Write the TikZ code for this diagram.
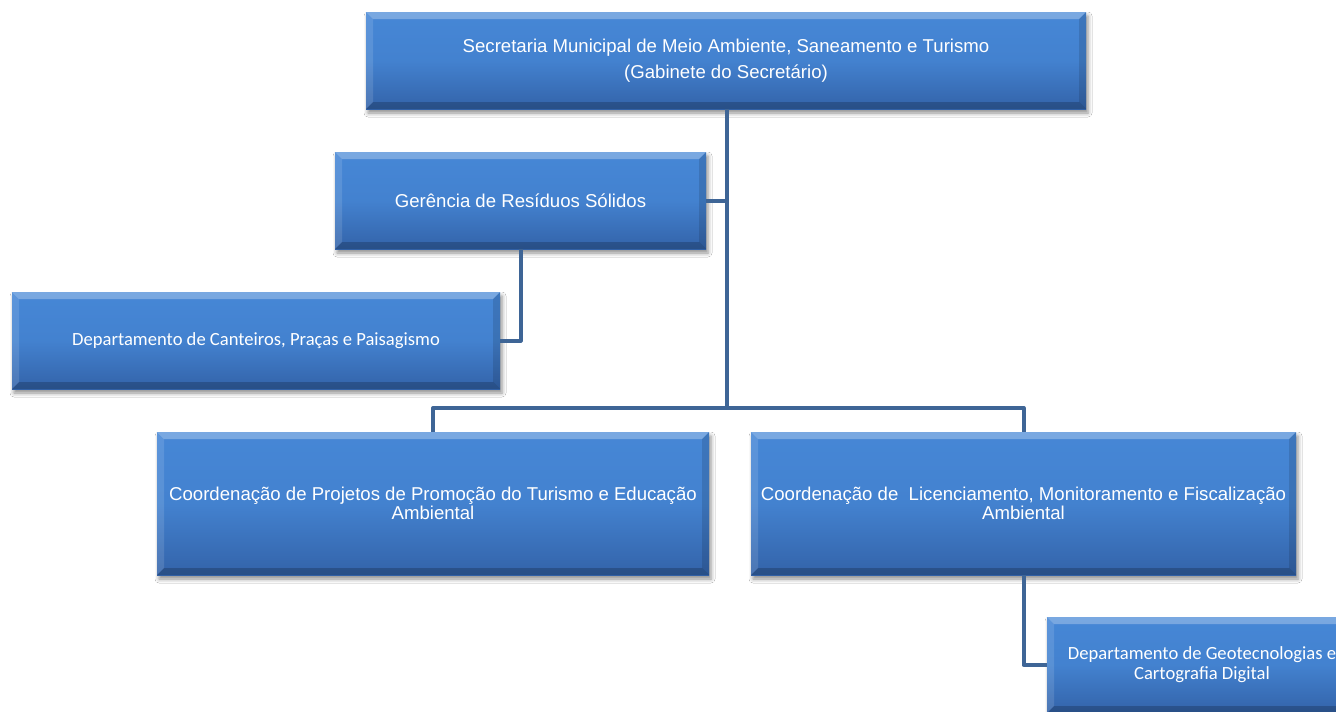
\documentclass[tikz,border=0pt]{standalone}
\usepackage{fontspec}
\setmainfont{Liberation Sans}
\newfontfamily\calib{Carlito}
\usetikzlibrary{calc,shadows.blur}
\definecolor{boxtop}{HTML}{4687D6}
\definecolor{boxbot}{HTML}{3363A9}
\definecolor{linecol}{HTML}{3E6596}
\tikzset{
  orgbox/.style={
    rectangle, inner sep=0pt, align=center, text=white,
    top color=boxtop, bottom color=boxbot, middle color=boxtop!85!boxbot,
    blur shadow={shadow xshift=2pt, shadow yshift=-4pt, shadow blur radius=4pt, shadow opacity=45},
    path picture={
      \fill[white,opacity=0.28] (path picture bounding box.north west) -- (path picture bounding box.north east) -- ($(path picture bounding box.north east)+(-7pt,-7pt)$) -- ($(path picture bounding box.north west)+(7pt,-7pt)$) -- cycle;
      \fill[white,opacity=0.12] (path picture bounding box.north west) -- ($(path picture bounding box.north west)+(7pt,-7pt)$) -- ($(path picture bounding box.south west)+(7pt,7pt)$) -- (path picture bounding box.south west) -- cycle;
      \fill[black,opacity=0.12] (path picture bounding box.north east) -- ($(path picture bounding box.north east)+(-7pt,-7pt)$) -- ($(path picture bounding box.south east)+(-7pt,7pt)$) -- (path picture bounding box.south east) -- cycle;
      \fill[black,opacity=0.2] (path picture bounding box.south west) -- ($(path picture bounding box.south west)+(7pt,7pt)$) -- ($(path picture bounding box.south east)+(-7pt,7pt)$) -- (path picture bounding box.south east) -- cycle;
    }
  },
  arialtxt/.style={font=\fontsize{18.6}{19}\selectfont},
  calibtxt/.style={font=\calib\fontsize{18.6}{20}\selectfont},
  conn/.style={draw=linecol, line width=4pt, line join=round}
}
\begin{document}
\begin{tikzpicture}[x=1pt,y=-1pt]
\useasboundingbox (0,0) rectangle (1336,712);
\clip (0,0) rectangle (1336,712);
\fill[white] (0,0) rectangle (1336,712);
\coordinate (bus) at (727,408);
\node[orgbox, arialtxt, minimum width=720pt, minimum height=97pt] (top) at (726,60.5)
  {Secretaria Municipal de Meio Ambiente, Saneamento e Turismo\\[7pt](Gabinete do Secretário)};
\node[orgbox, arialtxt, minimum width=371pt, minimum height=97pt] (ger) at (520.5,200.5)
  {Gerência de Resíduos Sólidos};
\node[orgbox, calibtxt, minimum width=488pt, minimum height=97pt] (cant) at (256,340.5)
  {Departamento de Canteiros, Praças e Paisagismo};
\node[orgbox, arialtxt, minimum width=552pt, minimum height=143pt] (proj) at (433,503.5)
  {Coordenação de Projetos de Promoção do Turismo e Educação\\Ambiental};
\node[orgbox, arialtxt, minimum width=545pt, minimum height=143pt] (lic) at (1023.5,503.5)
  {Coordenação de\ \ Licenciamento, Monitoramento e Fiscalização\\Ambiental};
\node[orgbox, calibtxt, minimum width=310pt, minimum height=96pt] (geo) at (1202,665)
  {Departamento de Geotecnologias e\\Cartografia Digital};
% connectors
\draw[conn] (top.south -| bus) -- (bus);
\draw[conn] (proj.north) |- (bus) -| (lic.north);
\draw[conn] (ger.east) -- (ger.east -| bus);
\draw[conn] (ger.south) |- (cant.east);
\draw[conn] (lic.south) |- (geo.west);
\end{tikzpicture}
\end{document}
